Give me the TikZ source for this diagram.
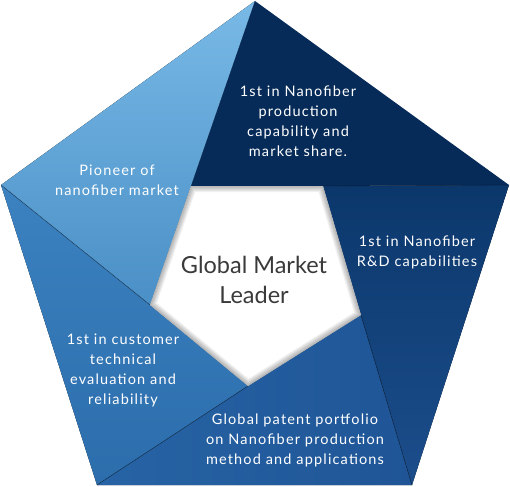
\documentclass[tikz,border=0pt]{standalone}
\usepackage{fontspec}
\setmainfont{Lato}
\newfontfamily\trackedfont[LetterSpace=8]{Lato}
\usepackage{xcolor}
\definecolor{paleblue}{HTML}{78B9E6}
\definecolor{midblue}{HTML}{4A8FC6}
\definecolor{steelblue}{HTML}{3C82C0}
\definecolor{deepblue}{HTML}{2C6DAC}
\definecolor{patentblue}{HTML}{2764A5}
\definecolor{patentdark}{HTML}{1F5597}
\definecolor{rdtop}{HTML}{0B376B}
\definecolor{rdbottom}{HTML}{1C4E8C}
\definecolor{navy}{HTML}{072B58}
\definecolor{leadergray}{HTML}{3A3A3A}

\begin{document}
\begin{tikzpicture}
  [x=1pt, y=-1pt,
   txt/.style={text=white, align=center, font=\trackedfont\fontsize{14.5}{20}\selectfont},
   centre/.style={text=leadergray, align=center, font=\fontsize{23.5}{30}\selectfont},
   fold/.style={draw=black, opacity=0.22, line width=0.8pt},
  ]
  \useasboundingbox (0,0) rectangle (510,486);

  % outer corners
  \coordinate (ot) at (255,1);
  \coordinate (or) at (509,185);
  \coordinate (obr) at (412,485);
  \coordinate (obl) at (97,485);
  \coordinate (ol) at (1,185);
  % inner corners
  \coordinate (itl) at (191,186);
  \coordinate (itr) at (323,186);
  \coordinate (ir) at (361,315);
  \coordinate (ib) at (248,386);
  \coordinate (il) at (150,305);

  % segments
  \fill[top color=paleblue, bottom color=midblue] (ol) -- (ot) -- (itl) -- (il) -- cycle;
  \fill[top color=steelblue, bottom color=deepblue] (obl) -- (ol) -- (il) -- (ib) -- cycle;
  \fill[left color=patentblue, right color=patentdark] (obr) -- (obl) -- (ib) -- (ir) -- cycle;
  \fill[top color=rdtop, bottom color=rdbottom] (or) -- (obr) -- (ir) -- (itr) -- cycle;
  \fill[navy] (ot) -- (or) -- (itr) -- (itl) -- cycle;

  % folds
  \draw[fold] (ol) -- (il);
  \draw[fold] (obl) -- (ib);
  \draw[fold] (obr) -- (ir);
  \draw[fold] (or) -- (itr);

  % centre with inner shadow
  \fill[white] (itl) -- (itr) -- (ir) -- (ib) -- (il) -- cycle;
  \begin{scope}
    \clip (itl) -- (itr) -- (ir) -- (ib) -- (il) -- cycle;
    \foreach \w in {2,4,...,12}
      \draw[black, opacity=0.05, line width=\w pt, line join=round]
        (itl) -- (itr) -- (ir) -- (ib) -- (il) -- cycle;
  \end{scope}

  % labels
  \node[txt] (share) at (298,121) {1st in Nanofiber\\production\\capability and\\market share.};
  \node[txt] (pioneer) at (117,180) {Pioneer of\\nanofiber market};
  \node[txt] (rnd) at (417,252) {1st in Nanofiber\\R\&D capabilities};
  \node[txt] (customer) at (123,370) {1st in customer\\technical\\evaluation and\\reliability};
  \node[txt] (patent) at (295,440) {Global patent portfolio\\on Nanofiber production\\method and applications};
  \node[centre] (leader) at (254,280) {Global Market\\Leader};
\end{tikzpicture}
\end{document}
